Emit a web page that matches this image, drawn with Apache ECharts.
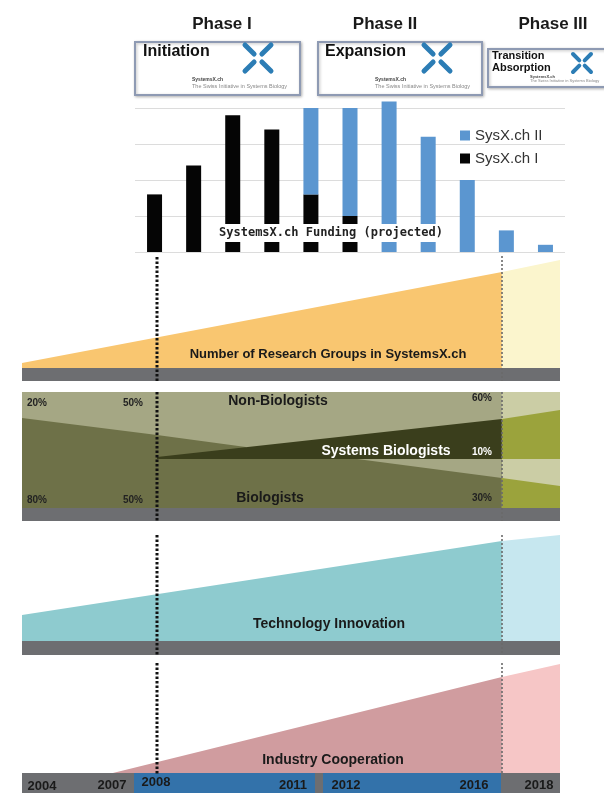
<!DOCTYPE html>
<html>
<head>
<meta charset="utf-8">
<script src="https://cdn.jsdelivr.net/npm/echarts@6/dist/echarts.min.js"></script>
<style>
html, body { margin: 0; padding: 0; background: #fff; }
#main { width: 604px; height: 793px; }
</style>
</head>
<body>
<div id="main"></div>
<script>
// funding bars (arbitrary units, one per year)
var years = ['2008', '2009', '2010', '2011', '2012', '2013', '2014', '2015', '2016', '2017', '2018'];
var sysxOne = [1.6, 2.4, 3.8, 3.4, 1.6, 1.0, 0, 0, 0, 0, 0];
var sysxTwo = [null, null, null, null, 2.4, 3.0, 4.18, 3.2, 2.0, 0.6, 0.2];

// band panels: x 0..100 across the timeline, y 0..100 of the band height
var groupsMain = [[0, 4.5], [89.2, 87.3]];
var groupsLate = [[89.2, 87.3], [100, 98.2]];

var nonBioBg = [[0, 100], [89.2, 100]];
var lateBg = [[89.2, 100], [100, 100]];
var bioTop = [[0, 77.6], [25.1, 62.9], [41.6, 52.6]];
var sysBioTop = [[25.1, 44], [89.2, 76.7]];
var nonBioMid = [[25.1, 42.2], [89.2, 42.2]];
var bioLow = [[25.1, 42.2], [62.3, 42.2], [89.2, 25.9]];
var lateUpper = [[89.2, 76.7], [100, 84.5]];
var lateMid = [[89.2, 42.2], [100, 42.2]];
var lateLower = [[89.2, 25.9], [100, 19.0]];

var techMain = [[0, 23.4], [89.2, 90.1]];
var techLate = [[89.2, 90.1], [100, 95.5]];

var industryMain = [[16.9, 0], [89.2, 85.0]];
var industryLate = [[89.2, 85.0], [100, 96.5]];

var pctLabels = [
    ['20%', 37, 403], ['50%', 133, 403], ['60%', 482, 398],
    ['80%', 37, 500], ['50%', 133, 500], ['30%', 482, 498]
];
var timeLabels = [
    ['2004', 42, 786], ['2007', 112, 785], ['2008', 156, 782],
    ['2011', 293, 785], ['2012', 346, 785], ['2016', 474, 785], ['2018', 539, 785]
];

var SANS = '"Liberation Sans", Arial, sans-serif';
var chart = echarts.init(document.getElementById('main'));

function area(data, color, idx) {
    return {
        type: 'line', xAxisIndex: idx, yAxisIndex: idx, data: data,
        symbol: 'none', silent: true, animation: false,
        lineStyle: { width: 0, color: color },
        areaStyle: { color: color, opacity: 1 }
    };
}
function txt(x, y, s, font, color, align) {
    return {
        type: 'text', z: 110, silent: true,
        style: {
            x: x, y: y, text: s, font: font, fill: color,
            align: align || 'center', verticalAlign: 'middle',
            textAlign: align || 'center', textVerticalAlign: 'middle'
        }
    };
}
function rect(x, y, w, h, fill, z) {
    return { type: 'rect', z: z || 5, silent: true, shape: { x: x, y: y, width: w, height: h }, style: { fill: fill } };
}
function dots(x, y1, y2, strong) {
    return {
        type: 'line', z: 120, silent: true,
        shape: { x1: x, y1: y1, x2: x, y2: y2 },
        style: strong
            ? { stroke: '#111', lineWidth: 3, lineDash: [2.5, 2] }
            : { stroke: '#6a6a6a', lineWidth: 1.6, lineDash: [2, 2] }
    };
}
function logo(cx, cy, r, w) {
    var g = r * 0.3;
    var out = [];
    [[-1, -1], [1, -1], [-1, 1], [1, 1]].forEach(function (d) {
        out.push({
            type: 'line', z: 60, silent: true,
            shape: { x1: cx + d[0] * r, y1: cy + d[1] * r, x2: cx + d[0] * g, y2: cy + d[1] * g },
            style: { stroke: '#2c7db5', lineWidth: w, lineCap: 'round' }
        });
    });
    return out;
}
function box(x, y, w, h) {
    return {
        type: 'rect', z: 50, silent: true,
        shape: { x: x, y: y, width: w, height: h },
        style: { fill: '#fff', stroke: '#8e9ab3', lineWidth: 2, shadowBlur: 3, shadowColor: 'rgba(0,0,0,0.25)', shadowOffsetX: 1, shadowOffsetY: 1 }
    };
}

var deco = [];
// phase headers and boxes
deco.push(txt(222, 24, 'Phase I', 'bold 17px ' + SANS, '#1a1a1a'));
deco.push(txt(385, 24, 'Phase II', 'bold 17px ' + SANS, '#1a1a1a'));
deco.push(txt(553, 24, 'Phase III', 'bold 17px ' + SANS, '#1a1a1a'));

deco.push(box(135, 42, 165, 53));
deco.push(txt(143, 52, 'Initiation', 'bold 16px ' + SANS, '#111', 'left'));
deco = deco.concat(logo(258, 58, 13, 5));
deco.push(txt(192, 80, 'SystemsX.ch', 'bold 5px ' + SANS, '#444', 'left'));
deco.push(txt(192, 86, 'The Swiss Initiative in Systems Biology', '5.5px ' + SANS, '#888', 'left'));

deco.push(box(318, 42, 164, 53));
deco.push(txt(325, 52, 'Expansion', 'bold 16px ' + SANS, '#111', 'left'));
deco = deco.concat(logo(437, 58, 13, 5));
deco.push(txt(375, 80, 'SystemsX.ch', 'bold 5px ' + SANS, '#444', 'left'));
deco.push(txt(375, 86, 'The Swiss Initiative in Systems Biology', '5.5px ' + SANS, '#888', 'left'));

deco.push(box(488, 49, 130, 38));
deco.push(txt(492, 56, 'Transition', 'bold 11px ' + SANS, '#111', 'left'));
deco.push(txt(492, 68, 'Absorption', 'bold 11px ' + SANS, '#111', 'left'));
deco = deco.concat(logo(582, 63, 9, 4));
deco.push(txt(530, 77, 'SystemsX.ch', 'bold 4px ' + SANS, '#444', 'left'));
deco.push(txt(530, 81, 'The Swiss Initiative in Systems Biology', '4px ' + SANS, '#888', 'left'));

// funding caption over the bars
deco.push(rect(207, 224, 250, 18, '#fff', 100));
deco.push(txt(331, 233, 'SystemsX.ch Funding (projected)', 'bold 12px "DejaVu Sans Mono", monospace', '#222'));

// grey strips and timeline
deco.push(rect(22, 368, 538, 13, '#6d6e71'));
deco.push(rect(22, 508, 538, 13, '#6d6e71'));
deco.push(rect(22, 641, 538, 14, '#6d6e71'));
deco.push(rect(22, 773, 538, 20, '#6d6e71'));
deco.push(rect(134, 773, 181, 20, '#3372aa', 6));
deco.push(rect(323, 773, 178, 20, '#3372aa', 6));

// band labels
deco.push(txt(328, 354, 'Number of Research Groups in SystemsX.ch', 'bold 13px ' + SANS, '#1a1a1a'));
deco.push(txt(278, 401, 'Non-Biologists', 'bold 14px ' + SANS, '#1a1a1a'));
deco.push(txt(386, 451, 'Systems Biologists', 'bold 14px ' + SANS, '#fff'));
deco.push(txt(482, 452, '10%', 'bold 10px ' + SANS, '#fff'));
deco.push(txt(270, 498, 'Biologists', 'bold 14px ' + SANS, '#1a1a1a'));
deco.push(txt(329, 624, 'Technology Innovation', 'bold 14px ' + SANS, '#1a1a1a'));
deco.push(txt(333, 760, 'Industry Cooperation', 'bold 14px ' + SANS, '#1a1a1a'));
pctLabels.forEach(function (p) {
    deco.push(txt(p[1], p[2], p[0], 'bold 10px ' + SANS, '#222'));
});
timeLabels.forEach(function (p) {
    deco.push(txt(p[1], p[2], p[0], 'bold 13px ' + SANS, '#1a1a1a'));
});

// phase boundaries
deco.push(dots(157, 257, 381, true));
deco.push(dots(157, 392, 521, true));
deco.push(dots(157, 535, 655, true));
deco.push(dots(157, 663, 774, true));
deco.push(dots(502, 256, 381, false));
deco.push(dots(502, 392, 521, false));
deco.push(dots(502, 535, 655, false));
deco.push(dots(502, 663, 774, false));

var bandAxis = function (i) {
    return { gridIndex: i, type: 'value', min: 0, max: 100, show: false };
};

var option = {
    backgroundColor: '#fff',
    animation: false,
    legend: {
        data: ['SysX.ch II', 'SysX.ch I'],
        orient: 'vertical',
        left: 455,
        top: 123,
        itemGap: 8,
        itemWidth: 10,
        itemHeight: 10,
        icon: 'rect',
        textStyle: { fontSize: 15, color: '#333', fontFamily: SANS }
    },
    grid: [
        { left: 135, top: 108, width: 430, height: 144 },
        { left: 22, top: 258, width: 538, height: 110 },
        { left: 22, top: 392, width: 538, height: 116 },
        { left: 22, top: 530, width: 538, height: 111 },
        { left: 22, top: 660, width: 538, height: 113 }
    ],
    xAxis: [
        { gridIndex: 0, type: 'category', data: years, axisLine: { show: false }, axisTick: { show: false }, axisLabel: { show: false } },
        bandAxis(1), bandAxis(2), bandAxis(3), bandAxis(4)
    ],
    yAxis: [
        {
            gridIndex: 0, type: 'value', min: 0, max: 4, interval: 1,
            axisLine: { show: false }, axisTick: { show: false }, axisLabel: { show: false },
            splitLine: { lineStyle: { color: '#dcdcdc', width: 1 } }
        },
        bandAxis(1), bandAxis(2), bandAxis(3), bandAxis(4)
    ],
    series: [
        { name: 'SysX.ch I', type: 'bar', stack: 'f', barWidth: 15, clip: false, data: sysxOne, itemStyle: { color: '#050505' } },
        { name: 'SysX.ch II', type: 'bar', stack: 'f', barWidth: 15, clip: false, data: sysxTwo, itemStyle: { color: '#5b96d0' } },

        area(groupsMain, '#f9c670', 1),
        area(groupsLate, '#fbf5cd', 1),

        area(nonBioBg, '#a5a784', 2),
        area(lateBg, '#cbcda5', 2),
        area(bioTop, '#6e7148', 2),
        area(sysBioTop, '#3a3e1c', 2),
        area(nonBioMid, '#a5a784', 2),
        area(bioLow, '#6e7148', 2),
        area(lateUpper, '#9ba33c', 2),
        area(lateMid, '#cbcda5', 2),
        area(lateLower, '#9ba33c', 2),

        area(techMain, '#8ecbcf', 3),
        area(techLate, '#c6e7ef', 3),

        area(industryMain, '#d09c9f', 4),
        area(industryLate, '#f6c6c6', 4)
    ],
    graphic: deco
};

chart.setOption(option);
</script>
</body>
</html>
